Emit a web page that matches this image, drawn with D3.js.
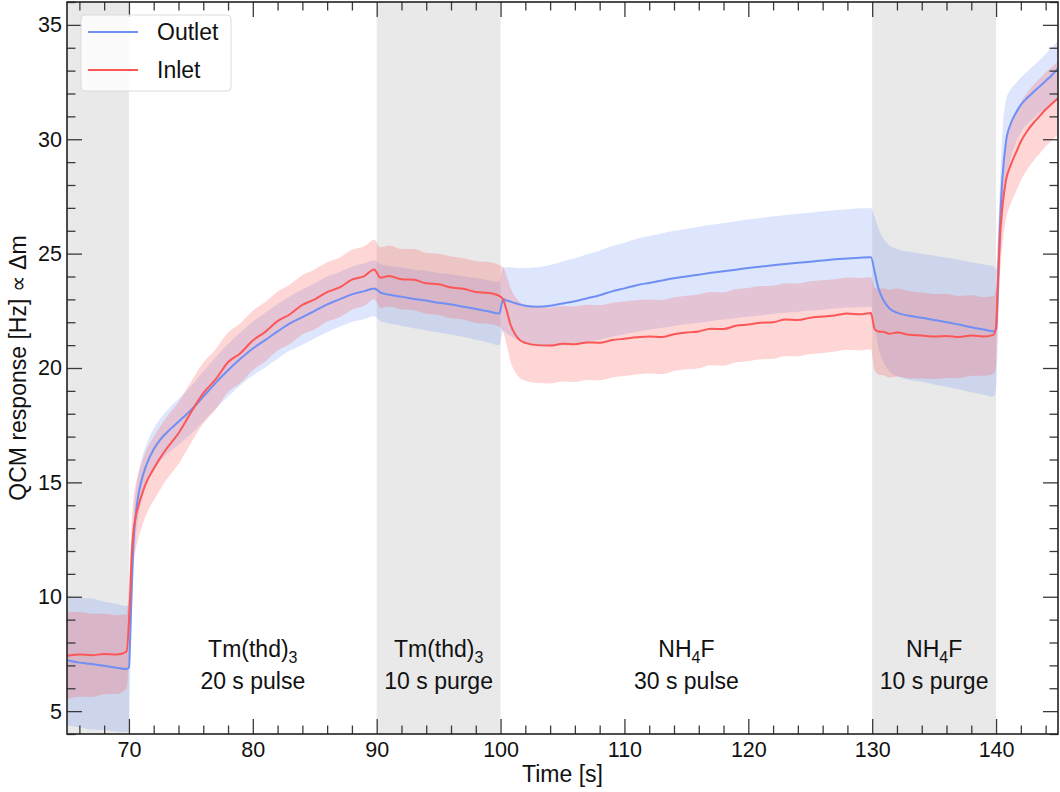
<!DOCTYPE html>
<html>
<head>
<meta charset="utf-8">
<script src="https://cdn.jsdelivr.net/npm/d3@7"></script>
<style>
  body { margin: 0; background: #fff; }
  text { font-family: "Liberation Sans", Arial, sans-serif; fill: #111; }
</style>
</head>
<body>
<svg id="chart" width="1060" height="792"></svg>
<script>
// time axis, seconds
const times = [
  65, 66, 67, 68, 69, 69.8, 70, 70.1, 70.2, 70.35, 70.55, 70.75, 71, 71.4, 72, 72.5, 73,
  74, 75, 76, 77, 78, 79, 80, 81, 82, 83, 84, 85, 86, 87, 88, 89, 89.8,
  90.3, 91, 92, 93, 94, 95, 96, 97, 98, 99, 99.9,
  100.2, 100.5, 100.8, 101.2, 101.6, 102,
  103, 104, 105, 106, 107, 108, 109, 110, 111, 112, 113, 114, 115, 116, 117, 118, 119, 120, 121, 122, 123, 124, 125, 126, 127, 128, 129, 129.9,
  130.2, 130.5, 130.9, 131.4, 132, 133, 134, 135, 136, 137, 138, 139, 139.8,
  140, 140.15, 140.3, 140.5, 140.8, 141.2, 141.6, 142, 142.5, 143, 143.5, 144, 144.5, 145
]

const outletMean = [
  7.22, 7.12, 7.06, 6.98, 6.9, 6.84, 6.9, 8.2, 9.9, 12.2, 13.6, 14.4, 15.05, 15.75, 16.45, 16.85, 17.15,
  17.65, 18.15, 18.75, 19.35, 19.9, 20.4, 20.85, 21.22, 21.6, 21.95, 22.22, 22.5, 22.78, 23.0, 23.22, 23.36, 23.48,
  23.3, 23.2, 23.12, 23.02, 22.95, 22.85, 22.78, 22.68, 22.58, 22.48, 22.38,
  23.02, 22.95, 22.9, 22.83, 22.77, 22.72,
  22.68, 22.72, 22.82, 22.92, 23.05, 23.18, 23.35, 23.48, 23.62, 23.72, 23.82, 23.92, 24.0, 24.08, 24.16, 24.23, 24.3, 24.37, 24.43, 24.49, 24.55, 24.6, 24.65, 24.7, 24.75, 24.79, 24.82, 24.84,
  24.2, 23.5, 22.97, 22.6, 22.42, 22.28, 22.2, 22.1, 22.0, 21.9, 21.78, 21.68, 21.6,
  21.7, 23.5, 26.0, 28.2, 29.9, 30.7, 31.15, 31.5, 31.8, 32.05, 32.3, 32.55, 32.8, 33.1
]

const outletSd = [
  2.85, 2.82, 2.86, 2.8, 2.79, 2.75, 2.8, 1.6, 1.2, 1.1, 1.0, 0.95, 0.92, 0.9, 0.9, 0.92, 0.95,
  1.0, 1.05, 1.1, 1.12, 1.15, 1.15, 1.18, 1.2, 1.2, 1.19, 1.21, 1.2, 1.22, 1.2, 1.21, 1.22, 1.22,
  1.25, 1.26, 1.27, 1.28, 1.3, 1.3, 1.32, 1.33, 1.35, 1.36, 1.38,
  1.4, 1.45, 1.5, 1.55, 1.6, 1.65,
  1.72, 1.78, 1.84, 1.88, 1.92, 1.95, 1.98, 2.0, 2.03, 2.05, 2.06, 2.08, 2.08, 2.1, 2.1, 2.11, 2.12, 2.12, 2.13, 2.13, 2.14, 2.14, 2.14, 2.15, 2.15, 2.15, 2.16, 2.16,
  2.4, 2.6, 2.7, 2.75, 2.78, 2.8, 2.8, 2.82, 2.82, 2.83, 2.84, 2.85, 2.85,
  2.6, 2.2, 1.9, 2.0, 1.8, 1.5, 1.3, 1.2, 1.15, 1.15, 1.15, 1.18, 1.2, 1.2
]

const inletMean = [
  7.42, 7.48, 7.44, 7.5, 7.47, 7.6, 8.9, 10.1, 11.6, 12.8, 13.5, 13.95, 14.4, 15.0, 15.6, 16.05, 16.45,
  17.15, 18.05, 18.9, 19.5, 20.25, 20.65, 21.2, 21.58, 22.05, 22.35, 22.76, 23.0, 23.32, 23.52, 23.86, 24.02, 24.31,
  23.95, 24.02, 23.88, 23.86, 23.7, 23.66, 23.52, 23.46, 23.32, 23.28, 23.15,
  23.0, 22.5, 21.9, 21.45, 21.2, 21.1,
  21.0, 20.98, 21.06, 21.04, 21.12, 21.1, 21.22, 21.28, 21.34, 21.38, 21.35, 21.48, 21.55, 21.6, 21.72, 21.7, 21.85, 21.9, 21.98, 22.0, 22.12, 22.1, 22.2, 22.25, 22.3, 22.38, 22.35, 22.4,
  21.7, 21.6, 21.58, 21.5, 21.55, 21.45, 21.42, 21.38, 21.4, 21.35, 21.42, 21.38, 21.45,
  21.8, 23.8, 25.6, 27.0, 28.2, 28.9, 29.4, 29.9, 30.35, 30.7, 31.0, 31.3, 31.55, 31.8
]

const inletSd = [
  1.9, 1.85, 1.82, 1.76, 1.72, 1.62, 1.5, 1.45, 1.4, 1.4, 1.42, 1.42, 1.4, 1.4, 1.38, 1.38, 1.36,
  1.35, 1.34, 1.33, 1.32, 1.3, 1.31, 1.3, 1.3, 1.29, 1.3, 1.3, 1.31, 1.3, 1.3, 1.31, 1.3, 1.3,
  1.32, 1.33, 1.32, 1.34, 1.33, 1.34, 1.35, 1.34, 1.35, 1.35, 1.35,
  1.4, 1.5, 1.6, 1.65, 1.66, 1.66,
  1.66, 1.66, 1.65, 1.65, 1.64, 1.64, 1.63, 1.63, 1.62, 1.62, 1.62, 1.61, 1.61, 1.61, 1.6, 1.6, 1.6, 1.6, 1.6, 1.6, 1.59, 1.59, 1.59, 1.59, 1.58, 1.58, 1.58, 1.58,
  1.8, 1.88, 1.9, 1.92, 1.92, 1.9, 1.88, 1.86, 1.84, 1.8, 1.76, 1.72, 1.7,
  1.7, 1.7, 1.7, 1.7, 1.7, 1.7, 1.7, 1.7, 1.68, 1.66, 1.64, 1.62, 1.6, 1.6
]

// grey purge spans
const purgeStarts = [65, 90, 130]
const purgeEnds = [70, 100, 140]

// phase annotations
const phaseCenters = [80, 95, 115, 135]
const phaseChem = [['Tm(thd)', '3', ''], ['Tm(thd)', '3', ''], ['NH', '4', 'F'], ['NH', '4', 'F']]
const phaseStep = ['20 s pulse', '10 s purge', '30 s pulse', '10 s purge']

const seriesNames = ['Outlet', 'Inlet']
const xTicks = [70, 80, 90, 100, 110, 120, 130, 140]
const yTicks = [5, 10, 15, 20, 25, 30, 35]

const plotL = 67, plotR = 1058, plotT = 2, plotB = 734
const x = d3.scaleLinear().domain([65, 145]).range([plotL, plotR])
const y = d3.scaleLinear().domain([4, 36]).range([plotB, plotT])

const blue = '#6f8ff5'
const red = '#fd5656'

const svg = d3.select('#chart')

svg.append('clipPath')
  .attr('id', 'plotclip')
  .append('rect')
  .attr('x', plotL)
  .attr('y', plotT)
  .attr('width', plotR - plotL)
  .attr('height', plotB - plotT)

const plot = svg.append('g').attr('clip-path', 'url(#plotclip)')

plot.selectAll('rect.purge')
  .data(purgeStarts)
  .enter().append('rect')
  .attr('class', 'purge')
  .attr('x', d => x(d))
  .attr('y', plotT)
  .attr('width', (d, i) => x(purgeEnds[i]) - x(d))
  .attr('height', plotB - plotT)
  .attr('fill', '#e9e9e9')

const outlet = times.map((t, i) => ({ t, m: outletMean[i], s: outletSd[i] }))
const inlet = times.map((t, i) => ({ t, m: inletMean[i], s: inletSd[i] }))

const band = d3.area()
  .curve(d3.curveMonotoneX)
  .x(d => x(d.t))
  .y0(d => y(d.m - d.s))
  .y1(d => y(d.m + d.s))

const line = d3.line()
  .curve(d3.curveMonotoneX)
  .x(d => x(d.t))
  .y(d => y(d.m))

plot.append('path')
  .datum(outlet)
  .attr('d', band)
  .attr('fill', 'rgb(100,140,240)')
  .attr('fill-opacity', 0.22)

plot.append('path')
  .datum(inlet)
  .attr('d', band)
  .attr('fill', 'rgb(250,90,90)')
  .attr('fill-opacity', 0.25)

plot.append('path')
  .datum(outlet)
  .attr('d', line)
  .attr('fill', 'none')
  .attr('stroke', blue)
  .attr('stroke-width', 2)

plot.append('path')
  .datum(inlet)
  .attr('d', line)
  .attr('fill', 'none')
  .attr('stroke', red)
  .attr('stroke-width', 2)

// phase labels
phaseCenters.forEach((c, i) => {
  const t1 = svg.append('text')
    .attr('x', x(c))
    .attr('y', 657)
    .attr('text-anchor', 'middle')
    .style('font-size', '23px')
  t1.append('tspan').text(phaseChem[i][0])
  t1.append('tspan').text(phaseChem[i][1])
    .attr('dy', 6)
    .style('font-size', '16px')
  if (phaseChem[i][2]) {
    t1.append('tspan').text(phaseChem[i][2])
      .attr('dy', -6)
  }

  svg.append('text')
    .attr('x', x(c))
    .attr('y', 689)
    .attr('text-anchor', 'middle')
    .style('font-size', '23px')
    .text(phaseStep[i])
})

// axes, ticks pointing inward on all four sides
const xMinor = d3.range(66, 145, 2).filter(v => v % 10 !== 0)
const yMinor = d3.range(4, 37, 1).filter(v => v % 5 !== 0)

function styleAxis(g) {
  g.select('.domain').remove()
  g.selectAll('.tick line').attr('stroke', '#3a3a3a').attr('stroke-width', 1.3)
  g.selectAll('.tick text').style('font-size', '21.5px').attr('fill', '#111')
}

svg.append('g')
  .attr('transform', `translate(0, ${plotB})`)
  .call(d3.axisBottom(x).tickValues(xTicks).tickSizeInner(-15).tickSizeOuter(0).tickPadding(8))
  .call(styleAxis)
svg.append('g')
  .attr('transform', `translate(0, ${plotB})`)
  .call(d3.axisBottom(x).tickValues(xMinor).tickSizeInner(-8.5).tickSizeOuter(0).tickFormat(''))
  .call(styleAxis)
svg.append('g')
  .attr('transform', `translate(0, ${plotT})`)
  .call(d3.axisTop(x).tickValues(xTicks).tickSizeInner(-15).tickSizeOuter(0).tickFormat(''))
  .call(styleAxis)
svg.append('g')
  .attr('transform', `translate(0, ${plotT})`)
  .call(d3.axisTop(x).tickValues(xMinor).tickSizeInner(-8.5).tickSizeOuter(0).tickFormat(''))
  .call(styleAxis)

svg.append('g')
  .attr('transform', `translate(${plotL}, 0)`)
  .call(d3.axisLeft(y).tickValues(yTicks).tickSizeInner(-15).tickSizeOuter(0).tickPadding(5))
  .call(styleAxis)
svg.append('g')
  .attr('transform', `translate(${plotL}, 0)`)
  .call(d3.axisLeft(y).tickValues(yMinor).tickSizeInner(-8.5).tickSizeOuter(0).tickFormat(''))
  .call(styleAxis)
svg.append('g')
  .attr('transform', `translate(${plotR}, 0)`)
  .call(d3.axisRight(y).tickValues(yTicks).tickSizeInner(-15).tickSizeOuter(0).tickFormat(''))
  .call(styleAxis)
svg.append('g')
  .attr('transform', `translate(${plotR}, 0)`)
  .call(d3.axisRight(y).tickValues(yMinor).tickSizeInner(-8.5).tickSizeOuter(0).tickFormat(''))
  .call(styleAxis)

svg.append('rect')
  .attr('x', plotL)
  .attr('y', plotT)
  .attr('width', plotR - plotL)
  .attr('height', plotB - plotT)
  .attr('fill', 'none')
  .attr('stroke', '#222')
  .attr('stroke-width', 1.6)

svg.append('text')
  .attr('x', (plotL + plotR) / 2)
  .attr('y', 782)
  .attr('text-anchor', 'middle')
  .style('font-size', '23px')
  .text('Time [s]')

svg.append('text')
  .attr('transform', `translate(26, ${(plotT + plotB) / 2}) rotate(-90)`)
  .attr('text-anchor', 'middle')
  .style('font-size', '23px')
  .text('QCM response [Hz] \u221d \u0394m')

// legend
const legend = svg.append('g')
legend.append('rect')
  .attr('x', 81)
  .attr('y', 15)
  .attr('width', 150)
  .attr('height', 76)
  .attr('rx', 4)
  .attr('fill', '#fff')
  .attr('fill-opacity', 0.8)
  .attr('stroke', '#dcdcdc')
  .attr('stroke-width', 1)

legend.selectAll('g.item')
  .data(seriesNames)
  .enter().append('g')
  .attr('class', 'item')
  .attr('transform', (d, i) => `translate(88, ${32 + i * 38})`)
  .each(function (d, i) {
    const g = d3.select(this)
    g.append('line')
      .attr('x1', 0).attr('x2', 50)
      .attr('y1', 0).attr('y2', 0)
      .attr('stroke', i === 0 ? blue : red)
      .attr('stroke-width', 2)
    g.append('text')
      .attr('x', 69)
      .attr('y', 8)
      .style('font-size', '23px')
      .text(d)
  })
</script>
</body>
</html>
